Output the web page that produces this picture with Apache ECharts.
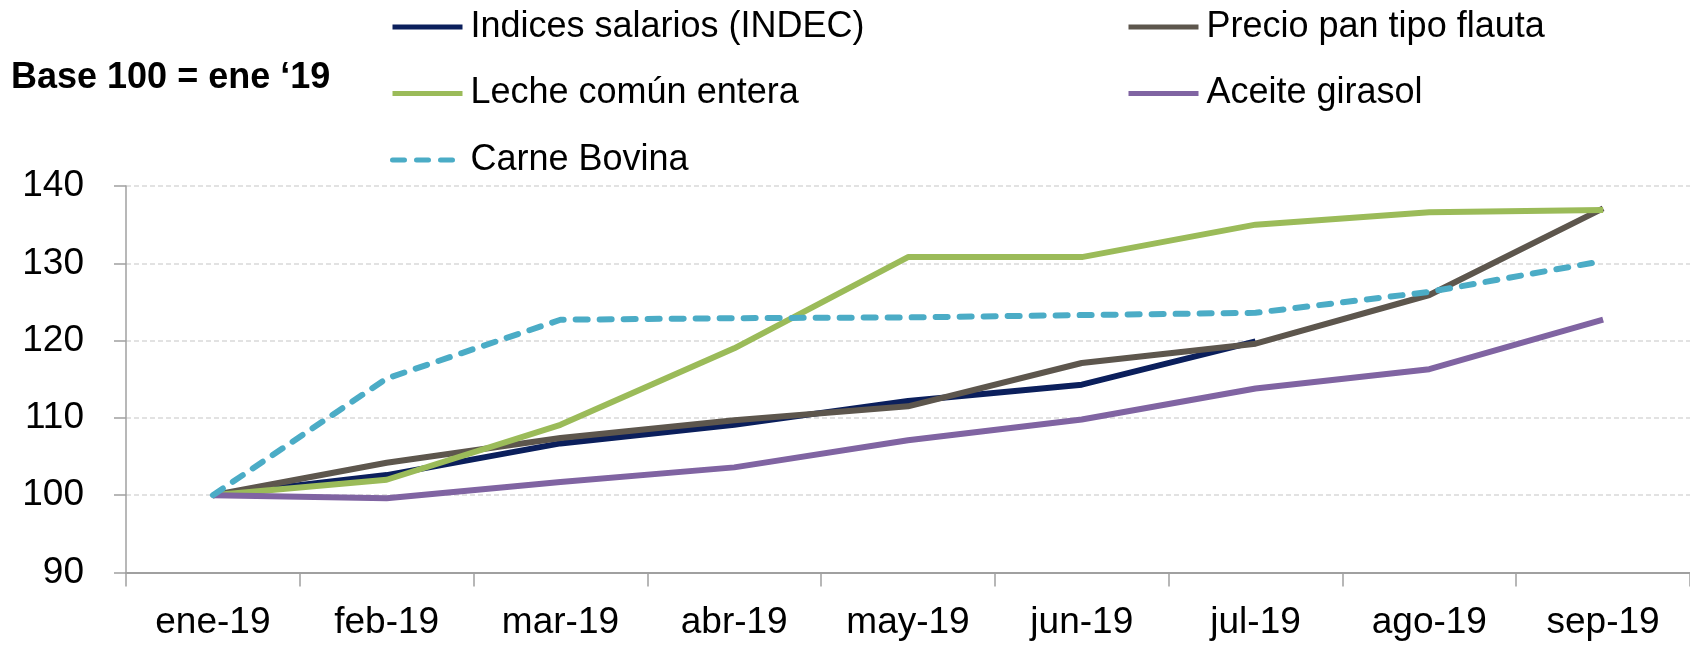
<!DOCTYPE html>
<html>
<head>
<meta charset="utf-8">
<script src="https://cdn.jsdelivr.net/npm/echarts@6/dist/echarts.min.js"></script>
<style>
html,body{margin:0;padding:0;background:#fff;}
#chart{width:1690px;height:648px;}
</style>
</head>
<body>
<div id="chart"></div>
<script>
const categories = ['ene-19','feb-19','mar-19','abr-19','may-19','jun-19','jul-19','ago-19','sep-19'];
const indicesSalarios = [100, 102.6, 106.7, 109.1, 112.2, 114.3, 119.9, null, null];
const precioPan = [100, 104.2, 107.4, 109.7, 111.5, 117.1, 119.6, 125.9, 137.1];
const lecheEntera = [100, 102.0, 109.1, 119.0, 130.8, 130.8, 135.0, 136.6, 136.9];
const aceiteGirasol = [100, 99.6, 101.7, 103.6, 107.1, 109.8, 113.8, 116.3, 122.7];
const carneBovina = [100, 115.1, 122.7, 122.9, 123.0, 123.3, 123.6, 126.3, 130.3];
const yTicks = {min: 90, max: 140, interval: 10};
const titleText = 'Base 100 = ene \u201819';
const palette = ['#0b1f5c', '#5d564d', '#9bbb59', '#8064a2', '#4bacc6'];

const FONT = '"Liberation Sans", Arial, sans-serif';
const chart = echarts.init(document.getElementById('chart'));

function lineSeries(name, data, color, dashed) {
  const ls = {width: 6, color: color};
  if (dashed) { ls.type = [12, 12]; ls.cap = 'round'; }
  return {name: name, type: 'line', data: data, symbol: 'none', lineStyle: ls};
}

const legendText = {color: '#000', fontFamily: FONT, fontSize: 36, lineHeight: 40, padding: [0, 0, 0, 3]};
const legendCommon = {
  orient: 'vertical',
  top: 7,
  padding: 0,
  itemWidth: 70,
  itemHeight: 14,
  itemGap: 26.5,
  itemStyle: {opacity: 0},
  lineStyle: {width: 5},
  textStyle: legendText
};

chart.setOption({
  animation: false,
  color: palette,
  title: {
    text: titleText,
    left: 11,
    top: 58,
    padding: 0,
    textStyle: {fontFamily: FONT, fontSize: 36, fontWeight: 'bold', color: '#000', lineHeight: 40}
  },
  legend: [
    Object.assign({}, legendCommon, {
      data: ['Indices salarios (INDEC)', 'Leche común entera', 'Carne Bovina'],
      left: 390
    }),
    Object.assign({}, legendCommon, {
      data: ['Precio pan tipo flauta', 'Aceite girasol'],
      left: 1126
    })
  ],
  grid: {left: 126, top: 186, width: 1573, height: 386.5},
  xAxis: {
    type: 'category',
    data: categories,
    boundaryGap: true,
    axisLine: {show: true, lineStyle: {color: '#a0a0a0', width: 2}},
    axisTick: {show: true, alignWithLabel: false, length: 14, lineStyle: {color: '#a0a0a0', width: 1.5}},
    axisLabel: {color: '#000', fontFamily: FONT, fontSize: 37, margin: 32, interval: 0}
  },
  yAxis: {
    type: 'value',
    min: yTicks.min,
    max: yTicks.max,
    interval: yTicks.interval,
    axisLine: {show: true, lineStyle: {color: '#a0a0a0', width: 1.5}},
    axisTick: {show: true, length: 12, lineStyle: {color: '#a0a0a0', width: 1.5}},
    axisLabel: {color: '#000', fontFamily: FONT, fontSize: 37, margin: 42},
    splitLine: {show: true, lineStyle: {color: '#d9d9d9', width: 1.5, type: [5, 3]}}
  },
  series: [
    lineSeries('Indices salarios (INDEC)', indicesSalarios, palette[0], false),
    lineSeries('Precio pan tipo flauta', precioPan, palette[1], false),
    lineSeries('Leche común entera', lecheEntera, palette[2], false),
    lineSeries('Aceite girasol', aceiteGirasol, palette[3], false),
    lineSeries('Carne Bovina', carneBovina, palette[4], true)
  ]
});
</script>
</body>
</html>
